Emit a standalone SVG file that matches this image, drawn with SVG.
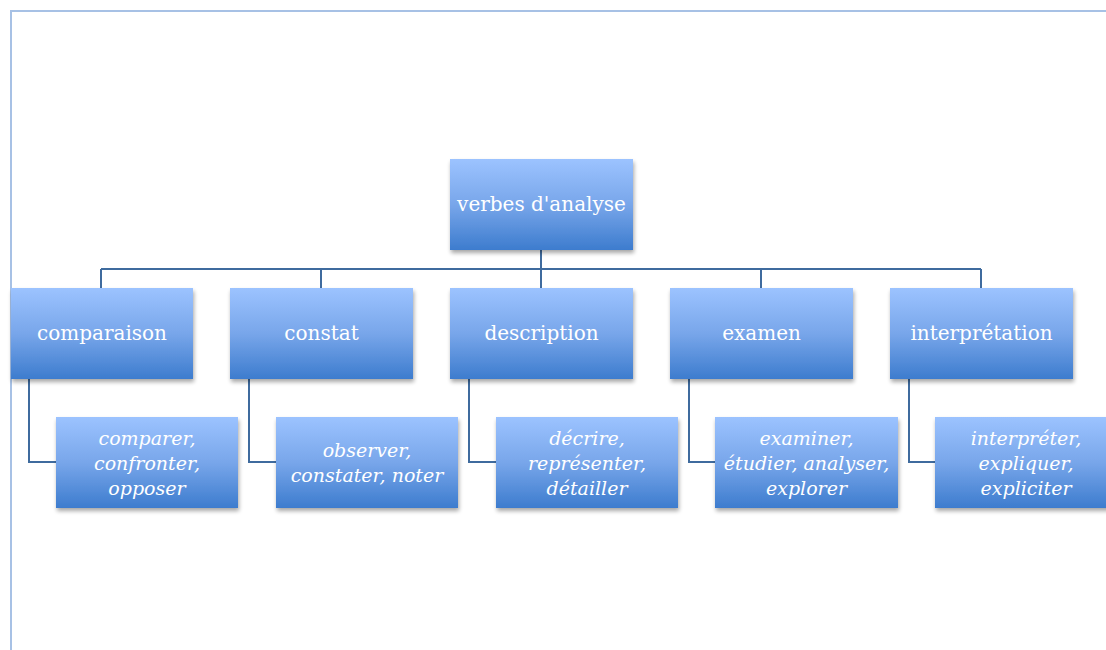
<svg xmlns="http://www.w3.org/2000/svg" width="1106" height="650" viewBox="0 0 1106 650">
<defs>
<linearGradient id="g" x1="0" y1="0" x2="0" y2="1">
<stop offset="0" stop-color="#9cc3ff"/>
<stop offset="0.5" stop-color="#78a6ea"/>
<stop offset="1" stop-color="#3d7cce"/>
</linearGradient>
<filter id="sh" x="-10%" y="-10%" width="125%" height="130%">
<feGaussianBlur in="SourceAlpha" stdDeviation="2"/>
<feOffset dx="1" dy="3"/>
<feComponentTransfer><feFuncA type="linear" slope="0.35"/></feComponentTransfer>
<feMerge><feMergeNode/><feMergeNode in="SourceGraphic"/></feMerge>
</filter>
</defs>
<style>
.box{fill:url(#g);filter:url(#sh)}
.t{font-family:"DejaVu Serif","Liberation Serif",serif;font-size:20px;fill:#fff;text-anchor:middle}
.c{font-family:"DejaVu Serif","Liberation Serif",serif;font-size:19px;font-style:italic;fill:#fff;text-anchor:middle}
.ln{fill:none;stroke:#3f6b9e;stroke-width:2}
.frame{fill:none;stroke:#a7c1e5;stroke-width:2}
</style>
<rect width="1106" height="650" fill="#fff"/>
<path class="frame" d="M11,650 V11 H1106"/>
<g id="connectors">
<path class="ln" d="M541,250 V269 M101,269 H981 M101,269 V288 M321,269 V288 M541,269 V288 M761,269 V288 M981,269 V288"/>
<path class="ln" d="M29,379 V462 H56 M249,379 V462 H276 M469,379 V462 H496 M689,379 V462 H715 M909,379 V462 H935"/>
</g>
<g id="root"><rect class="box" x="450" y="159" width="183" height="91"/><text class="t" x="541.5" y="211">verbes d'analyse</text></g>
<g id="comparaison"><rect class="box" x="11" y="288" width="182" height="91"/><text class="t" x="102" y="340">comparaison</text></g>
<g id="constat"><rect class="box" x="230" y="288" width="183" height="91"/><text class="t" x="321.5" y="340">constat</text></g>
<g id="description"><rect class="box" x="450" y="288" width="183" height="91"/><text class="t" x="541.5" y="340">description</text></g>
<g id="examen"><rect class="box" x="670" y="288" width="183" height="91"/><text class="t" x="761.5" y="340">examen</text></g>
<g id="interpretation"><rect class="box" x="890" y="288" width="183" height="91"/><text class="t" x="981.5" y="340">interprétation</text></g>
<g id="c1"><rect class="box" x="56" y="417" width="182" height="91"/><text class="c" x="147" y="445">comparer,</text><text class="c" x="147" y="470">confronter,</text><text class="c" x="147" y="495">opposer</text></g>
<g id="c2"><rect class="box" x="276" y="417" width="182" height="91"/><text class="c" x="367" y="457">observer,</text><text class="c" x="367" y="482">constater, noter</text></g>
<g id="c3"><rect class="box" x="496" y="417" width="182" height="91"/><text class="c" x="587" y="445">décrire,</text><text class="c" x="587" y="470">représenter,</text><text class="c" x="587" y="495">détailler</text></g>
<g id="c4"><rect class="box" x="715" y="417" width="183" height="91"/><text class="c" x="806.5" y="445">examiner,</text><text class="c" x="806.5" y="470">étudier, analyser,</text><text class="c" x="806.5" y="495">explorer</text></g>
<g id="c5"><rect class="box" x="935" y="417" width="183" height="91"/><text class="c" x="1026" y="445">interpréter,</text><text class="c" x="1026" y="470">expliquer,</text><text class="c" x="1026" y="495">expliciter</text></g>
</svg>
